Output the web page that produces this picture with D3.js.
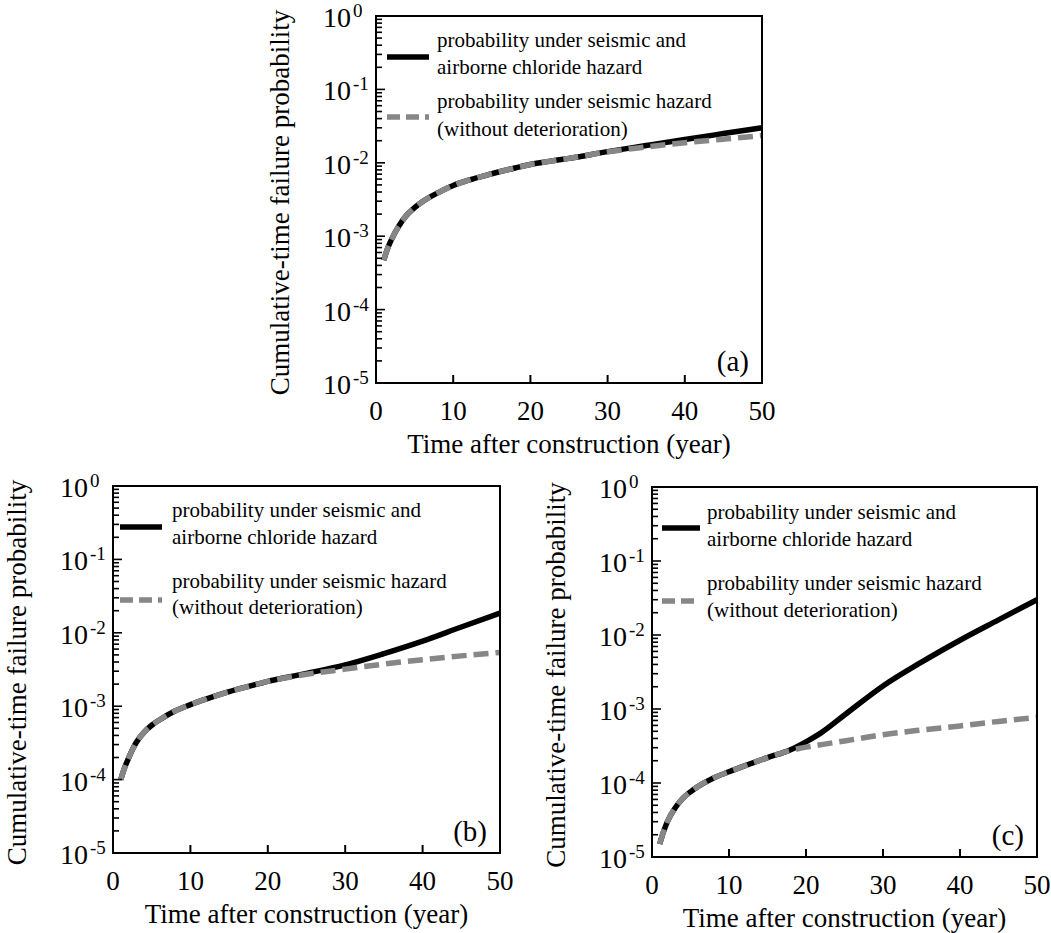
<!DOCTYPE html>
<html><head><meta charset="utf-8">
<script src="https://cdn.jsdelivr.net/npm/d3@7"></script>
<style>body{margin:0;background:#fff}svg{display:block}</style>
</head><body><svg id="chart" width="1051" height="933"></svg>
<script>
// ---- data ----
const years = [1, 1.5, 2, 3, 4, 5, 6, 8, 10, 12, 15, 18, 20, 22, 25, 30, 35, 40, 45, 50];
const aCombined = [4.7e-4, 6.8e-4, 9.0e-4, 1.4e-3, 1.95e-3, 2.45e-3, 2.95e-3, 3.9e-3, 4.9e-3, 5.8e-3, 7.1e-3, 8.5e-3, 9.5e-3, 1.03e-2, 1.15e-2, 1.42e-2, 1.72e-2, 2.08e-2, 2.5e-2, 3.0e-2];
const aSeismic  = [4.7e-4, 6.8e-4, 9.0e-4, 1.4e-3, 1.95e-3, 2.45e-3, 2.95e-3, 3.9e-3, 4.9e-3, 5.8e-3, 7.1e-3, 8.5e-3, 9.5e-3, 1.03e-2, 1.15e-2, 1.41e-2, 1.64e-2, 1.88e-2, 2.1e-2, 2.35e-2];
const bCombined = [1.0e-4, 1.45e-4, 1.95e-4, 3.2e-4, 4.4e-4, 5.5e-4, 6.5e-4, 8.6e-4, 1.05e-3, 1.25e-3, 1.58e-3, 1.92e-3, 2.18e-3, 2.42e-3, 2.8e-3, 3.65e-3, 5.2e-3, 7.7e-3, 1.2e-2, 1.85e-2];
const bSeismic  = [1.0e-4, 1.45e-4, 1.95e-4, 3.2e-4, 4.4e-4, 5.5e-4, 6.5e-4, 8.6e-4, 1.05e-3, 1.25e-3, 1.58e-3, 1.92e-3, 2.18e-3, 2.4e-3, 2.72e-3, 3.2e-3, 3.75e-3, 4.3e-3, 4.85e-3, 5.4e-3];
const cCombined = [1.5e-5, 2.2e-5, 3.0e-5, 4.6e-5, 6.2e-5, 7.6e-5, 9.0e-5, 1.17e-4, 1.42e-4, 1.7e-4, 2.2e-4, 2.82e-4, 3.6e-4, 4.8e-4, 8.3e-4, 2.05e-3, 4.3e-3, 8.5e-3, 1.6e-2, 3.0e-2];
const cSeismic  = [1.5e-5, 2.2e-5, 3.0e-5, 4.6e-5, 6.2e-5, 7.6e-5, 9.0e-5, 1.17e-4, 1.42e-4, 1.7e-4, 2.2e-4, 2.75e-4, 3.05e-4, 3.3e-4, 3.7e-4, 4.5e-4, 5.2e-4, 5.9e-4, 6.8e-4, 7.7e-4];
const yTickExponents = [0, -1, -2, -3, -4, -5];
const xTickValues = [0, 10, 20, 30, 40, 50];
const panelLabels = ["(a)", "(b)", "(c)"];
const legendCombined = ["probability under seismic and", "airborne chloride hazard"];
const legendSeismic = ["probability under seismic hazard", "(without deterioration)"];
const xTitle = "Time after construction (year)";
const yTitle = "Cumulative-time failure probability";

// ---- layout ----
const panels = [
  {combined: aCombined, seismic: aSeismic, label: panelLabels[0],
   left: 376, right: 762, top: 16, bottom: 383,
   leg: {lx1: 11, lx2: 53, tx: 61, b1: 31, l1: 41, b2: 58, b3: 92, l2: 101, b4: 120}},
  {combined: bCombined, seismic: bSeismic, label: panelLabels[1],
   left: 113, right: 500, top: 486, bottom: 853,
   leg: {lx1: 7, lx2: 49, tx: 59, b1: 31, l1: 41, b2: 58, b3: 102, l2: 114, b4: 128}},
  {combined: cCombined, seismic: cSeismic, label: panelLabels[2],
   left: 652, right: 1037, top: 487, bottom: 857,
   leg: {lx1: 10, lx2: 48, tx: 55, b1: 32, l1: 41, b2: 59, b3: 103, l2: 114, b4: 130}}
];

const FONT = "'Liberation Serif','Times New Roman',serif";
const GRAY = "#878787";
const svg = d3.select("#chart");

panels.forEach(p => {
  const x = d3.scaleLinear().domain([0, 50]).range([p.left, p.right]);
  const y = d3.scaleLog().domain([1e-5, 1]).range([p.bottom, p.top]);
  const g = svg.append("g");

  // data lines
  const line = d3.line().x(d => x(d[0])).y(d => y(d[1])).curve(d3.curveMonotoneX);
  g.append("path").datum(years.map((t, i) => [t, p.combined[i]]))
    .attr("d", line).attr("fill", "none").attr("stroke", "#000").attr("stroke-width", 5.5);
  g.append("path").datum(years.map((t, i) => [t, p.seismic[i]]))
    .attr("d", line).attr("fill", "none").attr("stroke", GRAY).attr("stroke-width", 5.5)
    .attr("stroke-dasharray", "15,7");

  // minor & major y ticks (inside)
  const yTicks = [];
  yTickExponents.forEach(e => {
    yTicks.push({v: Math.pow(10, e), major: true});
    if (e > -5) for (let k = 2; k <= 9; k++) yTicks.push({v: k * Math.pow(10, e - 1), major: false});
  });
  g.selectAll(".yt").data(yTicks).enter().append("line")
    .attr("x1", p.left).attr("x2", d => p.left + (d.major ? 9 : 6))
    .attr("y1", d => y(d.v)).attr("y2", d => y(d.v))
    .attr("stroke", "#000").attr("stroke-width", 1.6);

  // x ticks (inside)
  g.selectAll(".xt").data(xTickValues.slice(1, -1)).enter().append("line")
    .attr("x1", d => x(d)).attr("x2", d => x(d))
    .attr("y1", p.bottom).attr("y2", p.bottom - 8)
    .attr("stroke", "#000").attr("stroke-width", 2);

  // frame
  g.append("rect").attr("x", p.left).attr("y", p.top)
    .attr("width", p.right - p.left).attr("height", p.bottom - p.top)
    .attr("fill", "none").attr("stroke", "#000").attr("stroke-width", 2);

  // y tick labels
  yTickExponents.forEach(e => {
    const t = g.append("text").attr("x", p.left - 53).attr("y", y(Math.pow(10, e)) + 11)
      .attr("font-family", FONT).attr("font-size", 28).attr("fill", "#000");
    t.append("tspan").text("10");
    t.append("tspan").attr("dx", 2).attr("dy", -10).attr("font-size", 19).text(e === 0 ? "0" : "-" + Math.abs(e));
  });

  // x tick labels
  g.selectAll(".xl").data(xTickValues).enter().append("text")
    .attr("x", d => x(d)).attr("y", p.bottom + 37)
    .attr("text-anchor", "middle").attr("font-family", FONT).attr("font-size", 27)
    .text(d => d);

  // axis titles
  g.append("text").attr("x", (p.left + p.right) / 2).attr("y", p.bottom + 70)
    .attr("text-anchor", "middle").attr("font-family", FONT).attr("font-size", 27).text(xTitle);
  const cy = (p.top + p.bottom) / 2 + 3, cx = p.left - 87;
  g.append("text").attr("transform", `translate(${cx},${cy}) rotate(-90)`)
    .attr("text-anchor", "middle").attr("font-family", FONT).attr("font-size", 27).text(yTitle);

  // panel label
  g.append("text").attr("x", p.right - 13).attr("y", p.bottom - 12)
    .attr("text-anchor", "end").attr("font-family", FONT).attr("font-size", 29).text(p.label);

  // legend
  const L = p.leg;
  g.append("line").attr("x1", p.left + L.lx1).attr("x2", p.left + L.lx2)
    .attr("y1", p.top + L.l1).attr("y2", p.top + L.l1)
    .attr("stroke", "#000").attr("stroke-width", 5.5);
  g.append("line").attr("x1", p.left + L.lx1).attr("x2", p.left + L.lx2)
    .attr("y1", p.top + L.l2).attr("y2", p.top + L.l2)
    .attr("stroke", GRAY).attr("stroke-width", 5.5).attr("stroke-dasharray", "13,6");
  const legText = [[legendCombined[0], L.b1], [legendCombined[1], L.b2], [legendSeismic[0], L.b3], [legendSeismic[1], L.b4]];
  legText.forEach(([s, b]) => {
    g.append("text").attr("x", p.left + L.tx).attr("y", p.top + b)
      .attr("font-family", FONT).attr("font-size", 21).text(s);
  });
});
</script>
</body></html>
